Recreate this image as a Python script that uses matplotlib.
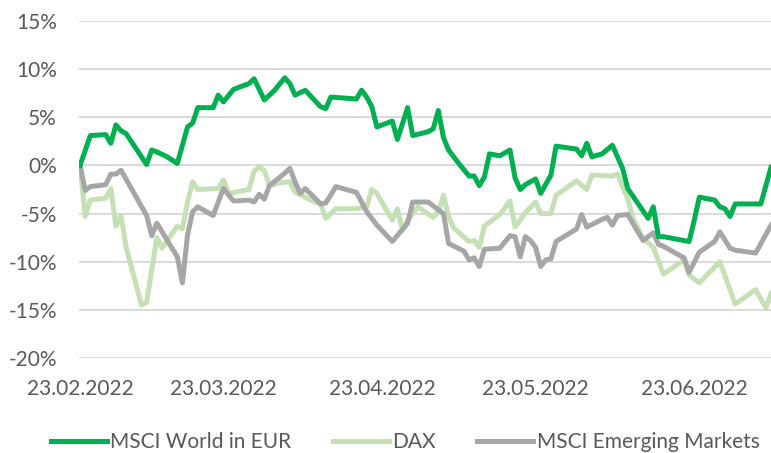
#!/usr/bin/env python3
# -*- coding: utf-8 -*-
"""
Performance since 23.02.2022: MSCI World (EUR), DAX and MSCI Emerging Markets.
Values read off the reference chart, in percent.
"""

import pandas as pd
import matplotlib.pyplot as plt

START = pd.Timestamp('2022-02-23')

# days after 23.02.2022 and change in percent
WORLD_DAYS = [0, 2, 5, 6, 7, 8, 9, 13, 14, 15, 17, 19, 21, 22, 23, 26, 27, 28,
              30, 33, 34, 36, 38, 40, 41, 42, 44, 47, 48, 49, 54, 55, 56, 57,
              58, 61, 62, 64, 65, 68, 69, 70, 71, 72, 74, 76, 77, 78, 79, 80,
              82, 84, 85, 86, 87, 89, 90, 92, 93, 97, 98, 99, 100, 102, 104,
              106, 107, 111, 112, 113, 114, 119, 120, 121, 124, 125, 126, 127,
              128, 133, 135]
WORLD = [0.0, 3.1, 3.2, 2.3, 4.2, 3.6, 3.3, 0.1, 1.6, 1.4, 0.9, 0.2, 4.0, 4.4,
         6.0, 6.0, 7.3, 6.6, 7.9, 8.5, 9.0, 6.8, 7.8, 9.1, 8.5, 7.3, 7.8, 6.1,
         5.9, 7.1, 6.9, 7.8, 7.1, 6.1, 4.0, 4.6, 2.7, 6.0, 3.1, 3.5, 3.8, 5.7,
         2.9, 1.6, 0.2, -1.1, -1.1, -2.1, -1.2, 1.2, 1.0, 1.6, -1.3, -2.5,
         -2.0, -1.4, -2.9, -1.0, 2.0, 1.7, 1.0, 2.3, 0.9, 1.2, 2.1, -0.3, -2.4,
         -5.5, -4.3, -7.4, -7.4, -7.9, -5.7, -3.3, -3.6, -4.3, -4.5, -5.3,
         -4.0, -4.0, -0.2]

DAX_DAYS = [0, 1, 2, 5, 6, 7, 8, 9, 12, 13, 15, 16, 19, 20, 21, 22, 23, 27,
            28, 29, 33, 34, 35, 36, 37, 39, 41, 42, 43, 45, 47, 48, 50, 54, 56,
            57, 58, 61, 62, 63, 64, 66, 69, 70, 71, 72, 73, 76, 77, 78, 79, 82,
            84, 85, 87, 89, 90, 92, 93, 97, 99, 100, 104, 105, 107, 108, 110,
            112, 114, 118, 119, 121, 125, 128, 132, 134, 135]
DAX = [0.0, -5.3, -3.6, -3.4, -2.4, -6.3, -5.2, -8.5, -14.5, -14.2, -7.5,
       -8.6, -6.3, -6.6, -3.8, -1.7, -2.5, -2.4, -1.5, -2.9, -2.5, -0.6, -0.2,
       -0.5, -2.1, -1.8, -1.7, -2.8, -3.0, -3.6, -4.0, -5.5, -4.5, -4.5, -4.3,
       -2.5, -2.9, -5.7, -4.5, -6.7, -5.7, -4.3, -5.4, -4.8, -3.1, -5.3, -6.5,
       -7.9, -7.8, -8.5, -6.3, -5.1, -3.7, -6.4, -4.9, -3.8, -5.0, -5.0, -3.1,
       -1.6, -2.5, -1.0, -1.1, -0.9, -3.5, -5.4, -7.6, -8.5, -11.3, -9.8,
       -11.4, -12.2, -10.0, -14.4, -12.9, -14.8, -13.3]

EM_DAYS = [0, 1, 2, 5, 6, 7, 8, 13, 14, 15, 19, 20, 21, 22, 23, 26, 28, 30,
           33, 34, 35, 36, 37, 40, 41, 42, 43, 44, 47, 48, 50, 54, 56, 57, 58,
           61, 64, 65, 68, 71, 72, 75, 76, 77, 78, 79, 82, 84, 85, 86, 87, 88,
           89, 90, 91, 92, 93, 97, 98, 99, 102, 103, 104, 105, 107, 110, 112,
           113, 114, 118, 119, 121, 124, 125, 127, 128, 132, 135]
EM = [0.0, -2.6, -2.2, -2.0, -0.9, -0.9, -0.5, -5.2, -7.3, -6.0, -9.5, -12.2,
      -7.2, -4.8, -4.3, -5.2, -2.4, -3.7, -3.6, -3.8, -3.0, -3.5, -2.1, -0.8,
      -0.3, -1.7, -2.9, -2.4, -4.0, -3.9, -2.2, -2.8, -4.8, -5.5, -6.2, -7.9,
      -6.0, -3.8, -3.8, -5.0, -8.1, -8.9, -9.8, -9.6, -10.5, -8.7, -8.6, -7.3,
      -7.4, -9.5, -7.4, -7.8, -8.5, -10.5, -9.8, -9.7, -7.9, -6.6, -5.1, -6.4,
      -5.6, -5.4, -6.2, -5.2, -5.1, -7.8, -7.0, -8.2, -8.4, -9.6, -11.1, -9.0,
      -7.9, -6.9, -8.6, -8.8, -9.1, -6.2]

TICK_DATES = ['2022-02-23', '2022-03-23', '2022-04-23', '2022-05-23',
              '2022-06-23']
Y_TICKS = [15, 10, 5, 0, -5, -10, -15, -20]

FONT = ['Lato', 'DejaVu Sans']
TEXT_COLOR = '#595959'


def to_dates(days):
    """Returns timestamps for day offsets after START
    days (list of int)
    """
    return START + pd.to_timedelta(days, unit='D')


fig = plt.figure(figsize=(7.71, 4.53), dpi=100)
ax = fig.add_axes([79 / 771, 1 - 358 / 453, 692 / 771, 337 / 453])

ax.plot(to_dates(DAX_DAYS), DAX, c='#C5E0B4', lw=3.6,
        solid_joinstyle='round', label='DAX', zorder=3)
ax.plot(to_dates(EM_DAYS), EM, c='#A6A6A6', lw=3.6,
        solid_joinstyle='round', label='MSCI Emerging Markets', zorder=4)
ax.plot(to_dates(WORLD_DAYS), WORLD, c='#00B050', lw=3.6,
        solid_joinstyle='round', label='MSCI World in EUR', zorder=5)

ax.set_xlim(START - pd.Timedelta(hours=5), START + pd.Timedelta(days=135))
ax.set_ylim(-20, 15)

ax.set_yticks(Y_TICKS)
ax.set_yticklabels(['{:d}%'.format(v) for v in Y_TICKS])
tick_dates = pd.to_datetime(TICK_DATES)
ax.set_xticks(tick_dates)
ax.set_xticklabels([d.strftime('%d.%m.%Y') for d in tick_dates])

ax.grid(axis='y', color='#D9D9D9', lw=1.4)
ax.set_axisbelow(True)
for spine in ax.spines.values():
    spine.set_visible(False)
ax.tick_params(length=0, colors=TEXT_COLOR, labelsize=15)
ax.tick_params(axis='y', pad=16)
ax.tick_params(axis='x', pad=15)
for label in ax.get_xticklabels() + ax.get_yticklabels():
    label.set_family(FONT)

handles, labels = ax.get_legend_handles_labels()
order = [2, 0, 1]
leg = fig.legend([handles[i] for i in order], [labels[i] for i in order],
                 loc='center', bbox_to_anchor=(405 / 771, 1 - 442 / 453),
                 ncol=3, frameon=False, handlelength=2.7, handletextpad=0.15,
                 columnspacing=2.0, prop={'family': FONT, 'size': 15})
for text in leg.get_texts():
    text.set_color(TEXT_COLOR)

fig.savefig('out.png', dpi=100)
